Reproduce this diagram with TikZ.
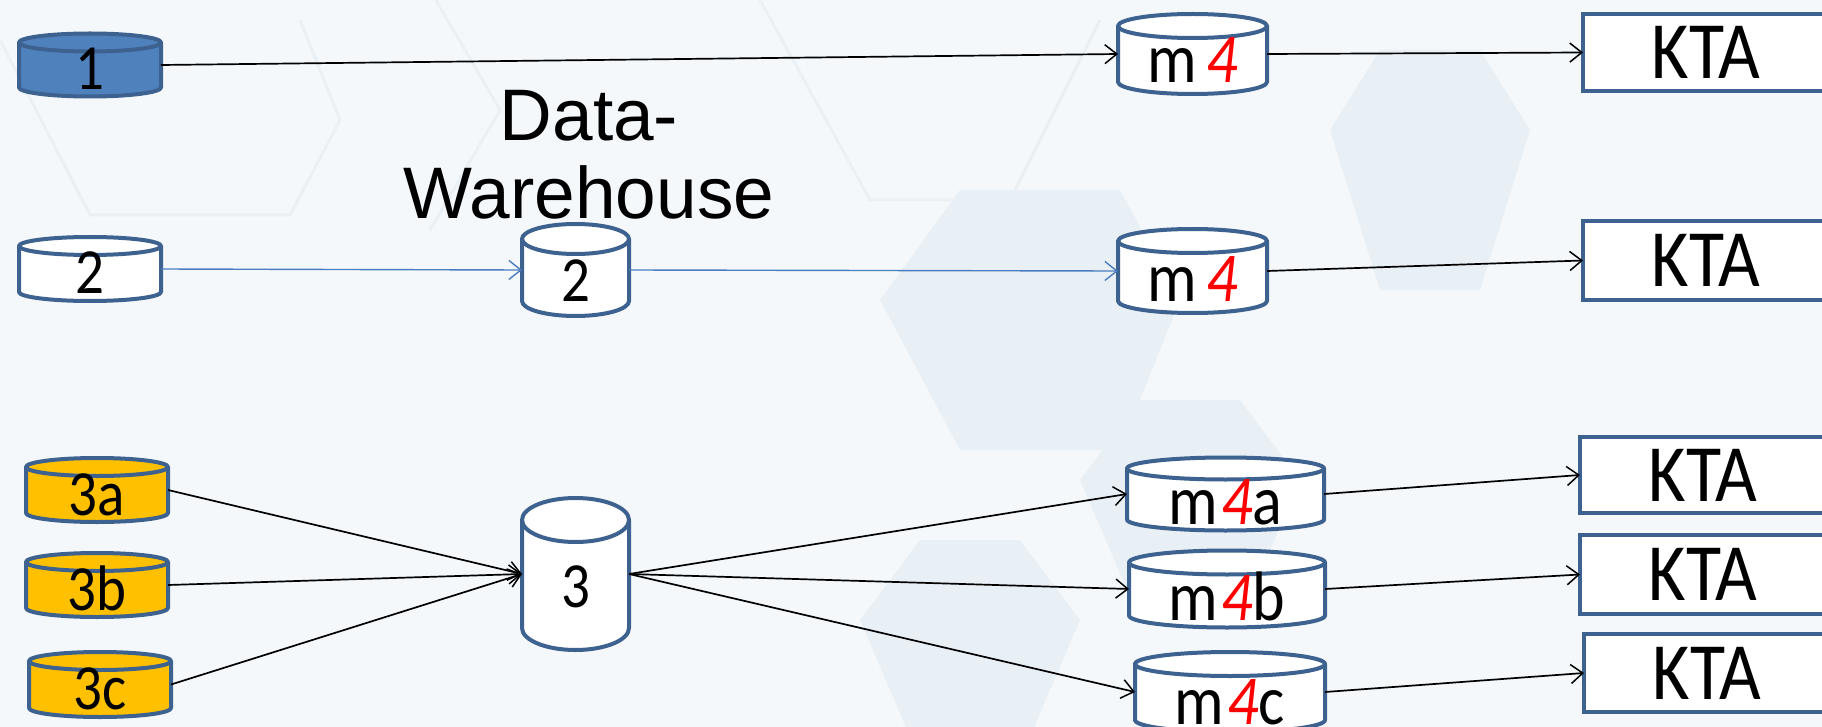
\documentclass[tikz,border=0pt]{standalone}
\usepackage{graphicx}
\usepackage{fontspec}
\setmainfont{Carlito}
\newfontfamily\arialf{Liberation Sans}
\usetikzlibrary{arrows.meta}
\definecolor{cylborder}{HTML}{3E6290}
\definecolor{blueFill}{HTML}{4F81BD}
\definecolor{yellowFill}{HTML}{FFC000}
\definecolor{blueLine}{HTML}{4A7EC0}
\definecolor{bgcol}{HTML}{F4F8FB}
\definecolor{hexcol}{HTML}{E9F0F5}
\definecolor{hexline}{HTML}{EAF0F4}
\definecolor{redfour}{HTML}{FF0000}
\tikzset{
  conn/.style={line width=1.7pt, black, -{Straight Barb[length=12pt,width=19pt,line width=1.5pt]}},
  bconn/.style={line width=1.4pt, blueLine, -{Straight Barb[length=12pt,width=19pt,line width=1.4pt]}},
  ktabox/.style={draw=cylborder, fill=white, line width=4pt, minimum width=246pt, inner sep=0pt, outer sep=0pt, font=\fontsize{72}{74}\selectfont, text depth=0pt},
  cyllabel/.style={anchor=base, inner sep=0pt},
  hexbg/.style={draw=hexline, line width=3pt},
  hexfill/.style={fill=hexcol},
}
\newcommand\vst[1]{\scalebox{1}[1.13]{#1}}
\newcommand\fourr{{\color{redfour}\itshape 4}}
\newcommand\cyltxt[1]{\fontsize{57}{59}\selectfont\vst{#1}}
\newcommand\mtxt[1]{\fontsize{62}{64}\selectfont\vst{#1}}
% name, cx, cy, w, h, ry, fill, text, baseline offset
\newcommand\dbcyl[9]{%
  \pgfmathsetmacro\cylL{#2-#4/2}\pgfmathsetmacro\cylR{#2+#4/2}%
  \pgfmathsetmacro\cylT{#3-#5/2+#6}\pgfmathsetmacro\cylB{#3+#5/2-#6}%
  \pgfmathsetmacro\cylRX{#4/2}%
  \path[fill=#7, draw=cylborder, line width=4pt, line join=round]
    (\cylL,\cylT) -- (\cylL,\cylB)
    arc[start angle=180, end angle=0, x radius=\cylRX, y radius=#6]
    -- (\cylR,\cylT)
    arc[start angle=0, end angle=-180, x radius=\cylRX, y radius=#6] -- cycle;
  \draw[cylborder, line width=4pt]
    (\cylL,\cylT) arc[start angle=180, end angle=0, x radius=\cylRX, y radius=#6];
  \node[minimum width=#4pt, minimum height=#5pt, inner sep=0pt, outer sep=0pt] (#1) at (#2,#3) {};
  \node[cyllabel] (#1-t) at (#2,#3+#9) {#8};
}
\begin{document}
\begin{tikzpicture}[x=1pt, y=-1pt]
\useasboundingbox (0,0) rectangle (1822,727);
\fill[bgcol] (0,0) rectangle (1822,727);
\begin{scope}
\clip (0,0) rectangle (1822,727);
% faint decorative hexagons
\draw[hexbg] (0,40) -- (90,215) -- (290,215) -- (340,120) -- (300,20);
\draw[hexbg] (330,-10) -- (430,-10) -- (500,110) -- (430,230);
\draw[hexbg] (760,0) -- (870,200) -- (1010,200) -- (1100,20);
\fill[hexfill] (880,300) -- (960,190) -- (1120,190) -- (1180,300) -- (1120,450) -- (960,450) -- cycle;
\fill[hexfill] (1330,130) -- (1380,50) -- (1480,50) -- (1530,130) -- (1480,290) -- (1380,290) -- cycle;
\fill[hexfill] (1080,480) -- (1140,400) -- (1240,400) -- (1300,480) -- (1240,620) -- (1140,620) -- cycle;
\fill[hexfill] (860,620) -- (920,540) -- (1020,540) -- (1080,620) -- (1020,760) -- (920,760) -- cycle;

% cylinders
\dbcyl{c1}{90}{65}{142}{63}{9}{blueFill}{\cyltxt{1}}{25}
\dbcyl{c2}{90}{269}{142}{64}{9}{white}{\cyltxt{2}}{25}
\dbcyl{dw2}{575.5}{270}{107}{92}{15}{white}{\cyltxt{2}}{31}
\dbcyl{m4t}{1192.5}{54}{149}{80}{12}{white}{\mtxt{m\kern10pt\fourr}}{29}
\dbcyl{m4m}{1192.5}{271}{149}{84}{12}{white}{\mtxt{m\kern10pt\fourr}}{30}
\dbcyl{c3a}{97}{490}{142}{64}{9}{yellowFill}{\cyltxt{3a}}{25}
\dbcyl{c3b}{97}{585}{142}{64}{9}{yellowFill}{\cyltxt{3b}}{25}
\dbcyl{c3c}{100}{684.5}{142}{65}{9}{yellowFill}{\cyltxt{3c}}{25}
\dbcyl{dw3}{575.5}{574}{107}{152}{22}{white}{\cyltxt{3}}{33}
\dbcyl{m4a}{1225.5}{494}{197}{73}{11}{white}{\mtxt{m\kern3pt\fourr a}}{30}
\dbcyl{m4b}{1227}{589}{196}{77}{12}{white}{\mtxt{m\kern3pt\fourr b}}{31}
\dbcyl{m4c}{1230}{692}{190}{80}{12}{white}{\mtxt{m\kern3pt\fourr c}}{32}

% KTA boxes
\node[ktabox, minimum height=77pt] (k1) at (1706,52.5) {\vst{KTA}};
\node[ktabox, minimum height=79pt] (k2) at (1706,260.5) {\vst{KTA}};
\node[ktabox, minimum height=76pt] (k3a) at (1703,475) {\vst{KTA}};
\node[ktabox, minimum height=79pt] (k3b) at (1703,574.5) {\vst{KTA}};
\node[ktabox, minimum height=78pt] (k3c) at (1707,673) {\vst{KTA}};
\end{scope}

% title text
\node[font=\arialf\fontsize{73}{78}\selectfont, align=center, inner sep=0pt, anchor=north] (dwtitle) at (589,90) {Data-\\Warehouse};

% connectors
\draw[conn] (c1.east) -- (m4t.west);
\draw[conn] (m4t.east) -- (k1.west);
\draw[bconn] (c2.east) -- (dw2.west);
\draw[bconn] (dw2.east) -- (m4m.west);
\draw[conn] (m4m.east) -- (k2.west);
\draw[conn] (c3a.east) -- (dw3.west);
\draw[conn] (c3b.east) -- (dw3.west);
\draw[conn] (c3c.east) -- (dw3.west);
\draw[conn] (dw3.east) -- (m4a.west);
\draw[conn] (dw3.east) -- (m4b.west);
\draw[conn] (dw3.east) -- (m4c.west);
\draw[conn] (m4a.east) -- (k3a.west);
\draw[conn] (m4b.east) -- (k3b.west);
\draw[conn] (m4c.east) -- (k3c.west);
\end{tikzpicture}
\end{document}
